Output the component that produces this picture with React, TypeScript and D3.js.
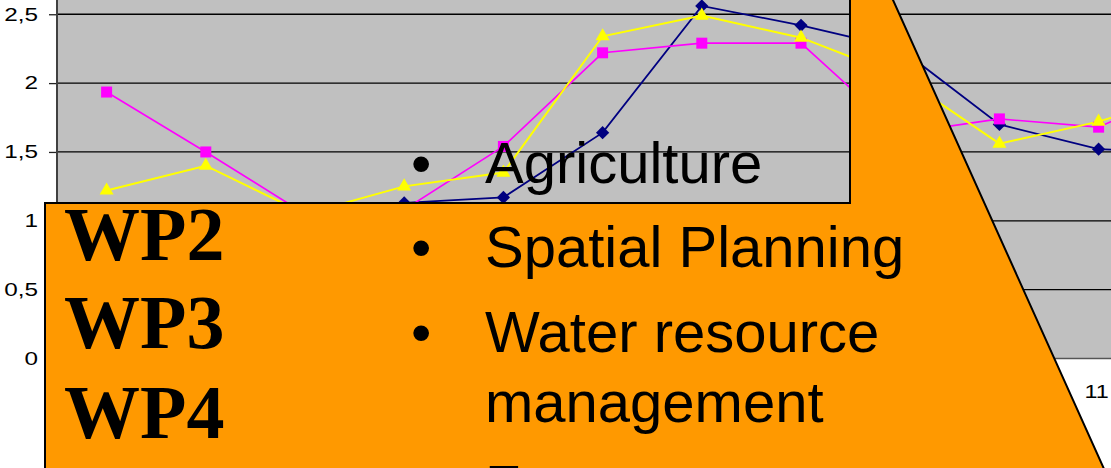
import React, { useEffect, useRef } from 'react';
import * as d3 from 'd3';

const categories = ['1', '2', '3', '4', '5', '6', '7', '8', '9', '10', '11', '12'];
const navySeries = [0.9, 0.95, 1.0, 1.13, 1.17, 1.64, 2.56, 2.42, 2.25, 1.7, 1.52, 1.5];
const magentaSeries = [1.935, 1.5, 1.05, 1.08, 1.54, 2.22, 2.29, 2.29, 1.635, 1.74, 1.68, 2.0];
const yellowSeries = [1.22, 1.4, 1.05, 1.25, 1.35, 2.34, 2.49, 2.33, 2.05, 1.56, 1.72, 1.95];
const yTicks = [0, 0.5, 1, 1.5, 2, 2.5];
const wpLabels = ['WP2', 'WP3', 'WP4'];
const bulletLines = [
  { text: 'Agriculture', bullet: true },
  { text: 'Spatial Planning', bullet: true },
  { text: 'Water resource', bullet: true },
  { text: 'management', bullet: false },
  { text: 'Forestry', bullet: true },
];

const W = 1111;
const H = 468;

const App: React.FC = () => {
  const svgRef = useRef<SVGSVGElement | null>(null);

  useEffect(() => {
    if (!svgRef.current) return;
    const svg = d3.select(svgRef.current);
    svg.selectAll('*').remove();

    const plotLeft = 57;
    const plotBottom = 358.5;

    const x = d3.scaleBand().domain(categories).range([plotLeft, plotLeft + 99.2 * categories.length]);
    const y = d3.scaleLinear().domain([0, 3]).range([plotBottom, plotBottom - 3 * 137.7]);
    const cx = (c: string) => (x(c) || 0) + x.bandwidth() / 2;

    // plot background
    svg
      .append('rect')
      .attr('x', plotLeft)
      .attr('y', -10)
      .attr('width', W)
      .attr('height', plotBottom + 10)
      .attr('fill', '#c0c0c0');

    // gridlines
    svg
      .append('g')
      .selectAll('line')
      .data(yTicks.filter((t) => t > 0))
      .enter()
      .append('line')
      .attr('x1', plotLeft)
      .attr('x2', W)
      .attr('y1', (d) => y(d))
      .attr('y2', (d) => y(d))
      .attr('stroke', '#000')
      .attr('stroke-width', 1.3);

    // baseline
    svg
      .append('line')
      .attr('x1', plotLeft)
      .attr('x2', W)
      .attr('y1', y(0))
      .attr('y2', y(0))
      .attr('stroke', '#555')
      .attr('stroke-width', 1.5);

    // y axis
    const yAxis = svg
      .append('g')
      .attr('transform', `translate(${plotLeft},0)`)
      .call(d3.axisLeft(y).tickValues(yTicks).tickSize(8).tickFormat((d) => String(d).replace('.', ',')));
    yAxis.select('.domain').remove();
    yAxis.selectAll('.tick line').attr('stroke', '#222').attr('stroke-width', 1.3);
    yAxis
      .selectAll<SVGTextElement, number>('.tick text')
      .attr('x', null)
      .attr('dy', null)
      .attr('fill', '#000')
      .style('font-family', 'Liberation Sans, Arial, sans-serif')
      .style('font-size', '18px')
      .attr('dominant-baseline', 'central')
      .attr('transform', 'translate(-19,0) scale(1.35,1)');

    svg
      .append('line')
      .attr('x1', plotLeft)
      .attr('x2', plotLeft)
      .attr('y1', -10)
      .attr('y2', plotBottom)
      .attr('stroke', '#404040')
      .attr('stroke-width', 2);

    // x labels (most sit under the callout)
    svg
      .append('g')
      .selectAll('text')
      .data(categories)
      .enter()
      .append('text')
      .attr('transform', (d) => `translate(${cx(d) - 2},${plotBottom + 33}) scale(1.3,1)`)
      .attr('text-anchor', 'middle')
      .attr('dominant-baseline', 'central')
      .style('font-family', 'Liberation Sans, Arial, sans-serif')
      .style('font-size', '18px')
      .text((d) => d);

    const series = [
      { values: navySeries, color: '#000080', width: 1.8, symbol: d3.symbolSquare, size: 88, rotate: 45 },
      { values: magentaSeries, color: '#ff00ff', width: 1.6, symbol: d3.symbolSquare, size: 121, rotate: 0 },
      { values: yellowSeries, color: '#ffff00', width: 2, symbol: d3.symbolTriangle, size: 85, rotate: 0 },
    ];

    const line = d3
      .line<number>()
      .x((_, i) => cx(categories[i]))
      .y((d) => y(d));

    series.forEach((s) => {
      svg
        .append('path')
        .datum(s.values)
        .attr('d', line)
        .attr('fill', 'none')
        .attr('stroke', s.color)
        .attr('stroke-width', s.width);
    });
    series.forEach((s) => {
      svg
        .append('g')
        .selectAll('path')
        .data(s.values)
        .enter()
        .append('path')
        .attr('d', d3.symbol().type(s.symbol).size(s.size)())
        .attr('transform', (d, i) => `translate(${cx(categories[i])},${y(d)}) rotate(${s.rotate})`)
        .attr('fill', s.color);
    });

    // orange callout overlay
    const callout = d3.path();
    callout.moveTo(45, H + 10);
    callout.lineTo(45, 203);
    callout.lineTo(850, 203);
    callout.lineTo(850, -10);
    callout.lineTo(893 - 0.45 * 10, -10);
    callout.lineTo(893 + 0.45 * (H + 10), H + 10);
    callout.closePath();
    svg
      .append('path')
      .attr('d', callout.toString())
      .attr('fill', '#ff9900')
      .attr('stroke', '#000')
      .attr('stroke-width', 2);

    svg
      .append('g')
      .selectAll('text')
      .data(wpLabels)
      .enter()
      .append('text')
      .attr('x', 64)
      .attr('y', (_, i) => [260, 348, 438][i])
      .style('font-family', 'Liberation Serif, Times New Roman, serif')
      .style('font-weight', 'bold')
      .style('font-size', '76px')
      .attr('fill', '#000')
      .text((d) => d);

    const baselines = [183, 267, 352, 422, 506];
    const textG = svg.append('g').style('font-family', 'Liberation Sans, Arial, sans-serif').style('font-size', '58px');
    bulletLines.forEach((b, i) => {
      if (b.bullet) {
        textG.append('text').attr('x', 411).attr('y', baselines[i]).text('•');
      }
      textG.append('text').attr('x', 485).attr('y', baselines[i]).text(b.text);
    });
  }, []);

  return <svg ref={svgRef} width={W} height={H} style={{ position: 'absolute', left: 0, top: 0 }} />;
};

export default App;
